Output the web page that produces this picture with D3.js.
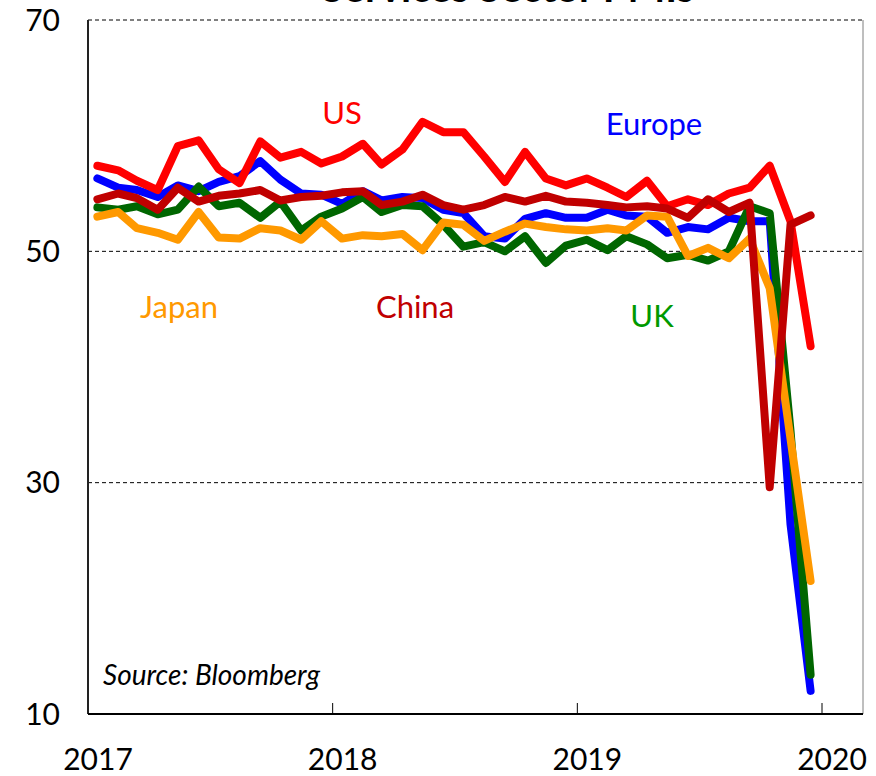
<!DOCTYPE html>
<html>
<head>
<meta charset="utf-8">
<script src="https://cdn.jsdelivr.net/npm/d3@7"></script>
<style>
  body { margin: 0; background: #fff; }
  svg { display: block; font-family: Lato, "Open Sans", sans-serif; }
</style>
</head>
<body>
<svg id="chart"></svg>
<script>
var months = ["2017-01","2017-02","2017-03","2017-04","2017-05","2017-06","2017-07","2017-08","2017-09","2017-10","2017-11","2017-12",
  "2018-01","2018-02","2018-03","2018-04","2018-05","2018-06","2018-07","2018-08","2018-09","2018-10","2018-11","2018-12",
  "2019-01","2019-02","2019-03","2019-04","2019-05","2019-06","2019-07","2019-08","2019-09","2019-10","2019-11","2019-12"];

var us = [57.4, 57.0, 56.1, 55.3, 59.1, 59.6, 57.1, 55.9, 59.5, 58.1, 58.6, 57.6,
  58.2, 59.3, 57.5, 58.8, 61.2, 60.3, 60.3, 58.2, 56.0, 58.6, 56.3, 55.7,
  56.3, 55.5, 54.7, 56.1, 53.9, 54.5, 54.0, 55.0, 55.5, 57.4, 52.6, 41.8];
var europe = [56.3, 55.5, 55.3, 54.7, 55.7, 55.2, 56.0, 56.5, 57.8, 56.2, 55.0, 54.9,
  54.1, 55.2, 54.4, 54.7, 54.6, 53.6, 53.3, 51.3, 51.1, 52.8, 53.3, 52.9,
  52.9, 53.6, 53.1, 53.0, 51.6, 52.1, 51.9, 52.9, 52.6, 52.6, 26.4, 12.0];
var uk = [53.8, 53.6, 53.9, 53.2, 53.6, 55.6, 53.9, 54.2, 52.9, 54.3, 51.8, 53.0,
  53.7, 54.7, 53.4, 54.0, 53.9, 52.3, 50.4, 50.8, 50.0, 51.3, 49.0, 50.5,
  51.0, 50.1, 51.3, 50.6, 49.4, 49.7, 49.2, 50.0, 53.9, 53.3, 34.5, 13.4];
var japan = [53.0, 53.4, 52.0, 51.6, 51.0, 53.4, 51.2, 51.1, 52.0, 51.8, 51.0, 52.6,
  51.1, 51.4, 51.3, 51.5, 50.1, 52.5, 52.3, 50.9, 51.7, 52.4, 52.1, 51.9,
  51.8, 52.0, 51.8, 53.1, 53.0, 49.6, 50.3, 49.4, 51.1, 46.8, 33.8, 21.5];
var china = [54.5, 55.0, 54.6, 53.6, 55.5, 54.3, 54.8, 55.0, 55.3, 54.4, 54.7, 54.8,
  55.1, 55.2, 54.0, 54.3, 54.9, 54.0, 53.6, 54.0, 54.7, 54.3, 54.8, 54.3,
  54.2, 54.0, 53.8, 53.9, 53.7, 52.9, 54.5, 53.4, 54.2, 29.6, 52.3, 53.1];

var yTicks = [10, 30, 50, 70];
var xTicks = ["2017", "2018", "2019", "2020"];

var width = 876, height = 776;
var margin = {left: 88, right: 863, top: 20, bottom: 714};

var svg = d3.select("#chart")
  .attr("width", width)
  .attr("height", height);

var parseMonth = d3.timeParse("%Y-%m");
var dates = months.map(function(m) { return d3.timeDay.offset(parseMonth(m), 14); });

var x = d3.scaleTime()
  .domain([new Date(2017, 0, 1), new Date(2020, 0, 1)])
  .range([margin.left, 822]);
var y = d3.scaleLinear()
  .domain([10, 70])
  .range([margin.bottom, margin.top]);

// title, mostly cut off at the top edge as in the original
svg.append("text")
  .attr("x", 508)
  .attr("y", 2)
  .attr("text-anchor", "middle")
  .style("font-size", "40px")
  .style("font-weight", "bold")
  .text("Services Sector PMIs");

svg.append("rect")
  .attr("x", margin.left).attr("y", margin.top)
  .attr("width", margin.right - margin.left).attr("height", margin.bottom - margin.top)
  .attr("fill", "#fff");

// dashed gridlines
svg.selectAll(".grid")
  .data(yTicks.filter(function(d) { return d > 10; }))
  .enter()
  .append("line")
  .attr("class", "grid")
  .attr("x1", margin.left).attr("x2", margin.right)
  .attr("y1", function(d) { return y(d); })
  .attr("y2", function(d) { return y(d); })
  .attr("stroke", "#000")
  .attr("stroke-width", 1)
  .attr("stroke-dasharray", "4,3");

// right border
svg.append("line")
  .attr("x1", margin.right).attr("x2", margin.right)
  .attr("y1", margin.top).attr("y2", margin.bottom)
  .attr("stroke", "#7f7f7f")
  .attr("stroke-width", 1);

var series = [
  {name: "Europe", values: europe, color: "#0000ff"},
  {name: "UK", values: uk, color: "#006600"},
  {name: "Japan", values: japan, color: "#ff9900"},
  {name: "US", values: us, color: "#ff0000"},
  {name: "China", values: china, color: "#c00000"}
];

var line = d3.line()
  .x(function(d, i) { return x(dates[i]); })
  .y(function(d) { return y(d); });

svg.selectAll(".series")
  .data(series)
  .enter()
  .append("path")
  .attr("class", "series")
  .attr("d", function(s) { return line(s.values); })
  .attr("fill", "none")
  .attr("stroke", function(s) { return s.color; })
  .attr("stroke-width", 8)
  .attr("stroke-linejoin", "round")
  .attr("stroke-linecap", "round");

// axes
svg.append("line")
  .attr("x1", margin.left).attr("x2", margin.left)
  .attr("y1", margin.top).attr("y2", margin.bottom)
  .attr("stroke", "#222")
  .attr("stroke-width", 2);
svg.append("line")
  .attr("x1", margin.left).attr("x2", margin.right)
  .attr("y1", margin.bottom).attr("y2", margin.bottom)
  .attr("stroke", "#000")
  .attr("stroke-width", 2);

svg.selectAll(".xtick")
  .data(xTicks.slice(1))
  .enter()
  .append("line")
  .attr("class", "xtick")
  .attr("x1", function(d) { return x(new Date(+d, 0, 1)); })
  .attr("x2", function(d) { return x(new Date(+d, 0, 1)); })
  .attr("y1", margin.bottom - 11).attr("y2", margin.bottom)
  .attr("stroke", "#000")
  .attr("stroke-width", 1);

svg.selectAll(".xlabel")
  .data(xTicks)
  .enter()
  .append("text")
  .attr("class", "xlabel")
  .attr("x", function(d) { return x(new Date(+d, 0, 1)) + 10; })
  .attr("y", 770)
  .attr("text-anchor", "middle")
  .style("font-size", "30px")
  .text(function(d) { return d; });

svg.selectAll(".ylabel")
  .data(yTicks)
  .enter()
  .append("text")
  .attr("class", "ylabel")
  .attr("x", 60)
  .attr("y", function(d) { return y(d); })
  .attr("dy", "0.36em")
  .attr("text-anchor", "end")
  .style("font-size", "30px")
  .text(function(d) { return d; });

// series labels
var labels = [
  {text: "US", x: 342, y: 124, color: "#ff0000"},
  {text: "Europe", x: 654, y: 135, color: "#0000ff"},
  {text: "Japan", x: 179, y: 318, color: "#ff9900"},
  {text: "China", x: 415, y: 318, color: "#c00000"},
  {text: "UK", x: 652, y: 327, color: "#009900"}
];
svg.selectAll(".lbl")
  .data(labels)
  .enter()
  .append("text")
  .attr("class", "lbl")
  .attr("x", function(d) { return d.x; })
  .attr("y", function(d) { return d.y; })
  .attr("text-anchor", "middle")
  .attr("fill", function(d) { return d.color; })
  .style("font-size", "31px")
  .text(function(d) { return d.text; });

svg.append("text")
  .attr("x", 103)
  .attr("y", 685)
  .style("font-size", "28px")
  .style("font-style", "italic")
  .text("Source: Bloomberg");
</script>
</body>
</html>
